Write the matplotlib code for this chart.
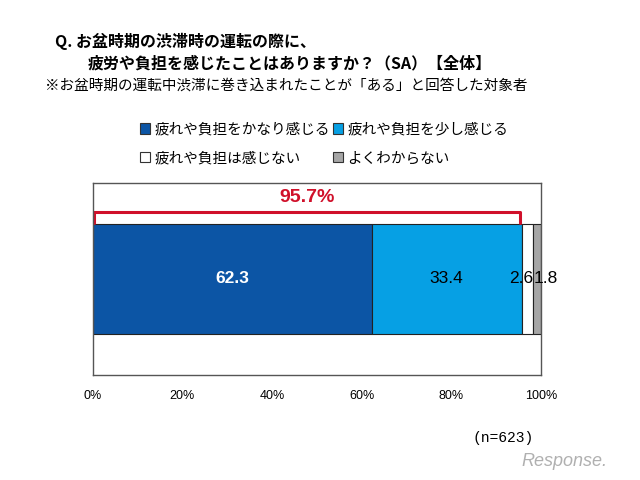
import matplotlib.pyplot as plt
from matplotlib.patches import Patch

plt.rcParams['font.family'] = ['Noto Sans CJK JP', 'DejaVu Sans']

categories = ['疲れや負担をかなり感じる', '疲れや負担を少し感じる', '疲れや負担は感じない', 'よくわからない']
values = [62.3, 33.4, 2.6, 1.8]
colors = ['#0C55A5', '#06A0E4', '#FFFFFF', '#A6A6A6']
label_colors = ['white', 'black', 'black', 'black']
ticks = [0, 20, 40, 60, 80, 100]
tick_labels = ['0%', '20%', '40%', '60%', '80%', '100%']
top2 = values[0] + values[1]

fig = plt.figure(figsize=(6.4, 4.8), dpi=100)
ax = fig.add_axes([0.145, 0.219, 0.700, 0.400])

num_font = ['Liberation Sans', 'DejaVu Sans']
left = 0
for i, (v, c, lc) in enumerate(zip(values, colors, label_colors)):
    ax.barh(0, v, left=left, height=0.57, color=c, edgecolor='#222222', linewidth=0.8)
    if i < 2:
        x, ha = left + v / 2, 'center'
    elif i == 2:
        x, ha = left + v, 'right'   # small ones sit side by side like the original
    else:
        x, ha = left, 'left'
    ax.text(x, 0, f'{v}', ha=ha, va='center', fontsize=12.5, color=lc, family=num_font,
            fontweight='bold' if lc == 'white' else 'normal')
    left += v

# bracket over top two
yb = 0.35
ax.plot([0.3, 0.3, top2 - 0.3, top2 - 0.3], [0.29, yb, yb, 0.29], color='#D0102A', lw=2.2,
        solid_joinstyle='round', solid_capstyle='round', clip_on=False)
ax.text(top2 / 2, 0.425, f'{top2:.1f}%', ha='center', va='center', fontsize=14,
        color='#D0102A', fontweight='bold', family=num_font)

ax.set_xlim(0, 100)
ax.set_ylim(-0.5, 0.5)
ax.set_yticks([])
ax.set_xticks(ticks)
ax.set_xticklabels(tick_labels, fontsize=9, family=num_font)
ax.tick_params(axis='x', length=0, pad=11)
for s in ax.spines.values():
    s.set_color('#555555')
    s.set_linewidth(1.0)

fig.text(0.086, 0.903, 'Q. お盆時期の渋滞時の運転の際に、', fontsize=11.5, fontweight='bold')
fig.text(0.137, 0.857, '疲労や負担を感じたことはありますか？（SA）【全体】', fontsize=11.5, fontweight='bold')
fig.text(0.070, 0.813, '※お盆時期の運転中渋滞に巻き込まれたことが「ある」と回答した対象者', fontsize=10.5)

handles = [Patch(facecolor=c, edgecolor='#333333', linewidth=0.8) for c in colors]
order = [0, 2, 1, 3]
fig.legend([handles[i] for i in order], [categories[i] for i in order], ncol=2,
           loc='upper left', bbox_to_anchor=(0.198, 0.772), frameon=False, fontsize=10.5,
           handlelength=0.7, handleheight=0.7, handletextpad=0.3, columnspacing=0.2,
           labelspacing=1.0)

fig.text(0.738, 0.080, '(n=623)', fontsize=10.5, family=['Liberation Mono', 'DejaVu Sans'])
fig.text(0.815, 0.03, 'Response.', fontsize=13, color='#B0B0B0', style='italic',
         family=num_font)

fig.savefig('out.png', dpi=100)
